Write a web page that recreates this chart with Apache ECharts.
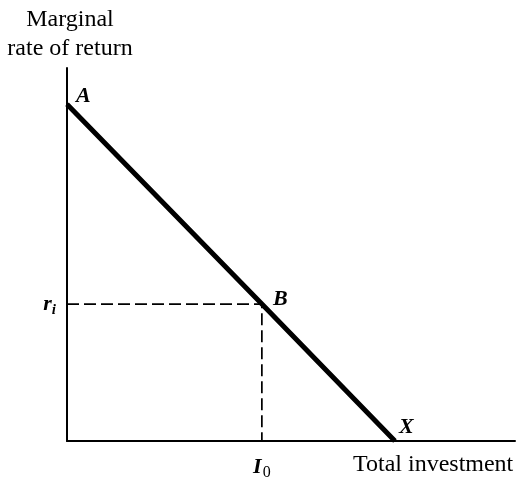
<!DOCTYPE html>
<html>
<head>
<meta charset="utf-8">
<script src="https://cdn.jsdelivr.net/npm/echarts@6/dist/echarts.min.js"></script>
<style>html,body{margin:0;padding:0;background:#fff;}#c{width:520px;height:481px;}</style>
</head>
<body>
<div id="c"></div>
<script>
// Data
const investment = [0, 43.5, 73.2];        // x values of A, B, X
const returnRate = [90.3, 36.7, 0];        // y values of A, B, X
const pointNames = ['A', 'B', 'X'];
const rLevel = 36.7;                       // r_i
const iLevel = 43.5;                       // I_0
const yAxisTitle = 'Marginal\nrate of return';
const xAxisTitle = 'Total investment';

const serif = 'Liberation Serif';
const chart = echarts.init(document.getElementById('c'), null, {renderer: 'canvas'});

const labelOffsets = {A: [4, -8], B: [6, -5], X: [-1, -14]};
const pointData = investment.map((x, i) => ({
  name: pointNames[i],
  value: [x, returnRate[i]],
  label: {offset: labelOffsets[pointNames[i]]}
}));

chart.setOption({
  animation: false,
  backgroundColor: '#fff',
  grid: {left: 67, right: 5, top: 68, bottom: 32, containLabel: false},
  xAxis: {
    type: 'value', min: 0, max: 100,
    splitLine: {show: false},
    axisLine: {show: true, lineStyle: {color: '#000', width: 2}},
    axisTick: {show: false},
    axisLabel: {
      customValues: [iLevel],
      margin: 12,
      formatter: () => '{b|I}{s|0}',
      rich: {
        b: {fontFamily: serif, fontStyle: 'italic', fontWeight: 'bold', fontSize: 22, color: '#000'},
        s: {fontFamily: serif, fontSize: 16, color: '#000', padding: [12, 0, 0, 1]}
      }
    }
  },
  yAxis: {
    type: 'value', min: 0, max: 100,
    splitLine: {show: false},
    axisLine: {show: true, lineStyle: {color: '#000', width: 2}},
    axisTick: {show: false},
    axisLabel: {
      customValues: [rLevel],
      margin: 11,
      formatter: () => '{b|r}{s|i}',
      rich: {
        b: {fontFamily: serif, fontStyle: 'italic', fontWeight: 'bold', fontSize: 22, color: '#000'},
        s: {fontFamily: serif, fontStyle: 'italic', fontWeight: 'bold', fontSize: 15, color: '#000', padding: [12, 0, 0, 0]}
      }
    }
  },
  graphic: [
    {type: 'text', x: 70, y: 5, style: {text: yAxisTitle, font: '24px "Liberation Serif"', fill: '#000', align: 'center', lineHeight: 29}},
    {type: 'text', x: 353, y: 453, style: {text: xAxisTitle, font: '24px "Liberation Serif"', fill: '#000'}}
  ],
  series: [
    {
      type: 'line',
      data: [[0, rLevel], [iLevel, rLevel], [iLevel, 0]],
      symbol: 'none',
      lineStyle: {color: '#000', width: 1.7, type: [12, 5]},
      silent: true
    },
    {
      type: 'line',
      data: pointData.map(d => d.value),
      symbol: 'none',
      lineStyle: {color: '#000', width: 5},
      silent: true
    },
    {
      type: 'scatter',
      data: pointData,
      symbolSize: 0,
      silent: true,
      itemStyle: {color: '#000', opacity: 1},
      label: {
        show: true,
        formatter: '{b}',
        position: 'right',
        opacity: 1,
        fontFamily: serif, fontStyle: 'italic', fontWeight: 'bold', fontSize: 22, color: '#000'
      }
    }
  ]
});
</script>
</body>
</html>
